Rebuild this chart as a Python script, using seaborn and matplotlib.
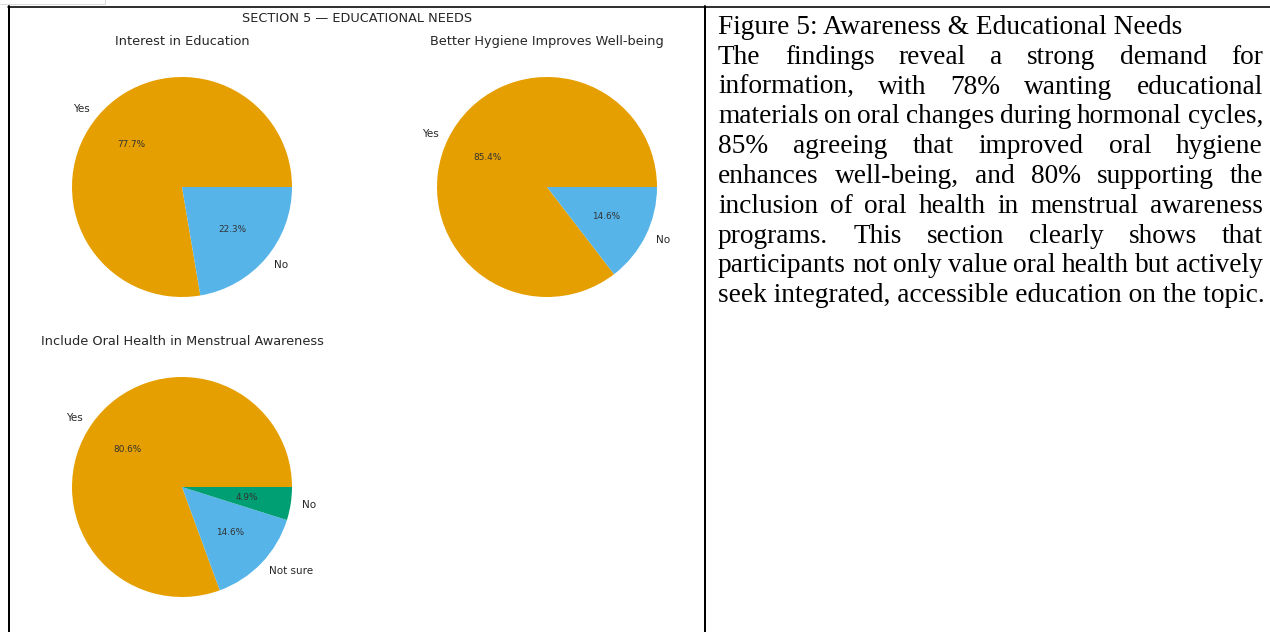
import matplotlib
matplotlib.use("Agg")
import matplotlib.pyplot as plt
import seaborn as sns
from matplotlib.lines import Line2D

W, H = 1270, 632

# Survey responses (n = 103)
interest_labels = ["Yes", "No"]
interest_counts = [80, 23]
hygiene_labels = ["Yes", "No"]
hygiene_counts = [88, 15]
include_labels = ["Yes", "Not sure", "No"]
include_counts = [83, 15, 5]

suptitle = "SECTION 5 — EDUCATIONAL NEEDS"
pie_titles = [
    "Interest in Education",
    "Better Hygiene Improves Well-being",
    "Include Oral Health in Menstrual Awareness",
]

caption_title = "Figure 5: Awareness & Educational Needs"
caption_lines = [
    "The findings reveal a strong demand for",
    "information, with 78% wanting educational",
    "materials on oral changes during hormonal cycles,",
    "85% agreeing that improved oral hygiene",
    "enhances well-being, and 80% supporting the",
    "inclusion of oral health in menstrual awareness",
    "programs. This section clearly shows that",
    "participants not only value oral health but actively",
    "seek integrated, accessible education on the topic.",
]

sns.set_theme(style="white")
palette = sns.color_palette(["#E69F00", "#56B4E9", "#009E73"])
TEXT = "#262626"

fig = plt.figure(figsize=(W / 100, H / 100), dpi=100)
fig.patch.set_facecolor("white")


def fx(x):
    return x / W


def fy(y):
    return 1 - y / H


def pie_axes(cx, cy, radius=110):
    side = radius * 2.5
    return fig.add_axes([fx(cx - side / 2), fy(cy + side / 2), side / W, side / H])


panels = [
    ((182, 187), interest_labels, interest_counts, pie_titles[0]),
    ((547, 187), hygiene_labels, hygiene_counts, pie_titles[1]),
    ((182, 487), include_labels, include_counts, pie_titles[2]),
]

for (cx, cy), labels, counts, title in panels:
    ax = pie_axes(cx, cy)
    wedges, texts, autotexts = ax.pie(
        counts,
        labels=labels,
        colors=palette[: len(counts)],
        autopct="%1.1f%%",
        startangle=0,
        wedgeprops={"linewidth": 0, "edgecolor": "none"},
        textprops={"fontsize": 7.5, "color": TEXT},
    )
    for t in autotexts:
        t.set_fontsize(6.4)
        t.set_color("#333333")
    ax.set_xlim(-1.25, 1.25)
    ax.set_ylim(-1.25, 1.25)
    ax.set_aspect("equal")
    ax.set_title(title, fontsize=9.3, pad=3, color=TEXT)

fig.text(fx(357), fy(19), suptitle, ha="center", va="center", fontsize=9.3, color=TEXT)

# Table borders
lw_pt = 2 * 0.72
fig.add_artist(Line2D([fx(8), fx(1270)], [fy(7), fy(7)], transform=fig.transFigure, color="black", lw=1.6 * 0.72))
fig.add_artist(Line2D([fx(8.5), fx(8.5)], [fy(6), fy(632)], transform=fig.transFigure, color="black", lw=lw_pt))
fig.add_artist(Line2D([fx(705), fx(705)], [fy(6), fy(632)], transform=fig.transFigure, color="black", lw=lw_pt))
# faint box at the corner
fig.add_artist(Line2D([fx(0), fx(105), fx(105)], [fy(3.5), fy(3.5), fy(0)], transform=fig.transFigure, color="#dcdcdc", lw=0.72))

# Caption text, justified like a document paragraph
renderer = fig.canvas.get_renderer()
SERIF = "Liberation Serif"


def text_width(s, size):
    t = fig.text(0, 0, s, fontsize=size, family=SERIF)
    w = t.get_window_extent(renderer).width
    t.remove()
    return w


left, right = 718, 1263
size = 20 * (546 / text_width(caption_lines[-1], 20))
em = size * 100 / 72
line0, step = 25, 29.8


def baseline(i):
    return line0 + step * i + 0.33 * em


fig.text(fx(left), fy(baseline(0)), caption_title, fontsize=size, family=SERIF,
         color="black", ha="left", va="baseline")

for i, line in enumerate(caption_lines, start=1):
    yb = fy(baseline(i))
    if i == len(caption_lines):
        fig.text(fx(left), yb, line, fontsize=size, family=SERIF, color="black", ha="left", va="baseline")
        continue
    words = line.split()
    widths = [text_width(w, size) for w in words]
    gap = (right - left - sum(widths)) / (len(words) - 1)
    x = left
    for w, wd in zip(words, widths):
        fig.text(fx(x), yb, w, fontsize=size, family=SERIF, color="black", ha="left", va="baseline")
        x += wd + gap

fig.savefig("out.png", dpi=100, facecolor="white")
